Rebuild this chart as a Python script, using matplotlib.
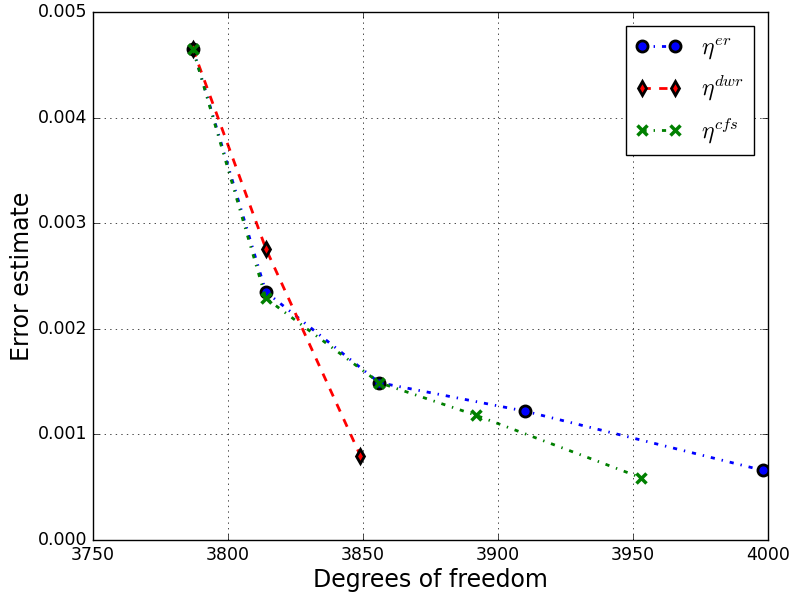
import matplotlib
matplotlib.use("Agg")
import matplotlib.pyplot as plt

# datos
dof_er = [3787, 3814, 3856, 3910, 3998]
err_er = [0.00465, 0.00235, 0.00149, 0.00122, 0.00066]

dof_dwr = [3787, 3814, 3849]
err_dwr = [0.00465, 0.00276, 0.00080]

dof_cfs = [3787, 3814, 3856, 3892, 3953]
err_cfs = [0.00465, 0.00229, 0.00149, 0.00118, 0.00059]

plt.style.use("classic")
plt.rcParams["mathtext.fontset"] = "cm"

fig = plt.figure(figsize=(7.94, 5.93), dpi=100)
ax = fig.add_axes([93 / 794, 53 / 593, 675 / 794, 528 / 593])

ax.plot(dof_er, err_er, "-.", color="blue", marker="o", markersize=8,
        markerfacecolor="blue", markeredgecolor="black", markeredgewidth=2,
        linewidth=2, label=r"$\eta^{er}$")
ax.plot(dof_dwr, err_dwr, "--", color="red", marker="d", markersize=7,
        markerfacecolor="red", markeredgecolor="black", markeredgewidth=2,
        linewidth=2, label=r"$\eta^{dwr}$")
ax.plot(dof_cfs, err_cfs, "-.", color="green", marker="x", markersize=7,
        markeredgewidth=2.5, linewidth=2, label=r"$\eta^{cfs}$")

ax.set_xlim(3750, 4000)
ax.set_ylim(0, 0.005)
ax.set_xticks([3750, 3800, 3850, 3900, 3950, 4000])
ax.set_yticks([0, 0.001, 0.002, 0.003, 0.004, 0.005])
ax.set_yticklabels(["0.000", "0.001", "0.002", "0.003", "0.004", "0.005"])
ax.tick_params(labelsize=12.5)
ax.set_xlabel("Degrees of freedom", fontsize=17, labelpad=3)
ax.set_ylabel("Error estimate", fontsize=17, labelpad=3)
ax.grid(True)
ax.legend(loc="upper right", numpoints=2, fontsize=17, borderaxespad=0.6)

fig.savefig("out.png", dpi=100)
